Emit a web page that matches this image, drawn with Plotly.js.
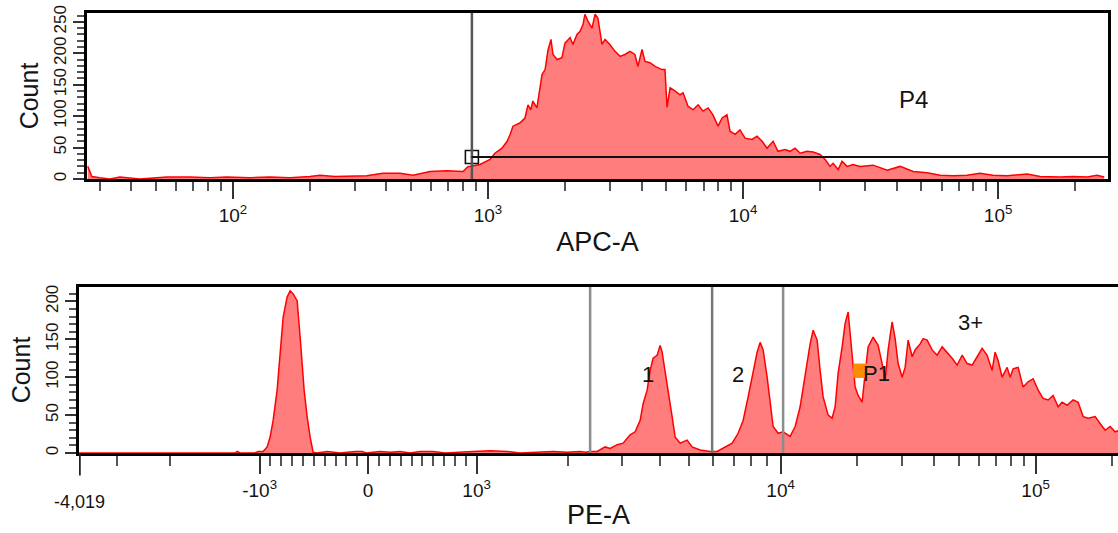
<!DOCTYPE html>
<html>
<head>
<meta charset="utf-8">
<script src="https://cdn.plot.ly/plotly-3.0.1.min.js"></script>
<style>
  html, body { margin: 0; padding: 0; background: #fff; }
  #chart { width: 1118px; height: 533px; }
</style>
</head>
<body>
<div id="chart"></div>
<script>
// ---------- Top histogram: APC-A (log scale), bins given as log10(APC-A) ----------
const apcDecade = [1.431,1.447,1.478,1.518,1.557,1.596,1.635,1.675,1.741,1.831,1.910,1.976,2.067,2.145,2.224,2.302,2.341,2.400,2.459,2.525,2.588,2.655,2.706,2.773,2.839,2.902,2.922,2.929,2.969,3.008,3.027,3.055,3.075,3.086,3.098,3.125,3.145,3.157,3.168,3.176,3.192,3.204,3.212,3.224,3.235,3.247,3.255,3.271,3.290,3.302,3.322,3.333,3.349,3.361,3.373,3.380,3.392,3.408,3.420,3.431,3.447,3.459,3.478,3.498,3.518,3.537,3.557,3.576,3.588,3.604,3.616,3.635,3.655,3.682,3.694,3.702,3.714,3.733,3.753,3.765,3.784,3.804,3.824,3.843,3.863,3.882,3.902,3.918,3.937,3.949,3.969,3.988,4.008,4.035,4.055,4.075,4.094,4.118,4.137,4.165,4.184,4.204,4.224,4.251,4.275,4.302,4.322,4.341,4.353,4.373,4.388,4.408,4.431,4.459,4.510,4.565,4.616,4.667,4.722,4.773,4.824,4.878,4.929,4.980,5.035,5.114,5.165,5.243,5.294,5.349,5.388,5.416];
const apcCount = [20,4,2,0,3,2,0,1,3,3,2,3,2,3,2,4,6,4,5,5,9,9,6,12,13,12,20,20,23,31,41,49,60,70,84,89,97,118,110,124,113,145,166,174,204,222,198,190,193,216,225,214,230,235,246,262,251,240,262,256,214,222,214,203,195,198,203,198,179,206,187,185,179,174,174,114,145,140,134,137,116,110,118,108,113,102,84,97,102,76,71,78,65,63,68,60,49,60,44,47,44,49,41,44,43,39,31,20,25,15,28,20,23,20,22,14,20,12,10,6,5,6,9,6,5,8,4,3,4,3,6,3];

// ---------- Bottom histogram: PE-A, bins given in biexponential display channels ----------
const peChannel = [0,156,158,161,176,179,184,188,191,194,198,201,204,208,211,214,218,221,223,225,228,231,234,238,248,254,261,276,283,287,301,311,321,331,341,354,366,394,411,428,441,474,488,501,506,511,518,526,531,538,544,551,556,561,564,568,571,574,578,581,583,586,589,593,596,601,608,613,621,631,638,644,653,659,664,669,674,678,681,684,688,691,694,699,704,711,716,721,726,731,734,738,741,744,749,753,756,759,763,766,769,773,776,779,783,786,789,794,799,803,806,809,813,816,819,823,826,829,833,836,841,844,848,853,858,863,868,873,878,883,888,893,898,903,908,913,916,919,923,928,931,934,939,944,949,954,959,964,969,974,979,983,988,994,999,1004,1009,1016,1021,1026,1031,1036,1041];
const peCount = [0,0,2,0,0,2,2,8,21,43,83,131,179,206,214,210,201,153,118,83,48,21,1,0,2,1,0,2,2,0,2,1,2,0,2,2,0,2,3,2,0,2,1,2,1,2,2,8,6,11,13,24,28,43,65,83,109,125,129,142,133,107,79,48,21,13,17,8,4,2,2,6,13,26,43,74,109,133,146,136,100,65,35,26,28,22,35,61,105,144,162,149,109,74,50,46,61,105,140,171,186,131,87,76,67,105,140,153,142,118,96,136,173,151,118,100,113,149,127,136,144,151,149,136,129,140,133,125,116,129,118,116,127,138,129,109,133,122,100,113,100,111,113,87,94,98,83,72,70,76,61,67,63,70,67,48,46,48,39,30,35,28,30];

// ---------- Axis tick labels ----------
const apcMajorTicks = [100, 1000, 10000, 100000];
const apcMajorText = ['10<sup>2</sup>', '10<sup>3</sup>', '10<sup>4</sup>', '10<sup>5</sup>'];
const apcMinorTicks = [30,40,50,60,70,80,90,200,300,400,500,600,700,800,900,2000,3000,4000,5000,6000,7000,8000,9000,20000,30000,40000,50000,60000,70000,80000,90000,200000];
const peMajorTicks = [-1000, 0, 1000, 10000, 100000];
const peMajorText = ['-10<sup>3</sup>', '0', '10<sup>3</sup>', '10<sup>4</sup>', '10<sup>5</sup>'];
const peMinorTicks = [-3000,-2000,-900,-800,-700,-600,-500,-400,-300,-200,-100,100,200,300,400,500,600,700,800,900,2000,3000,4000,5000,6000,7000,8000,9000,20000,30000,40000,50000,60000,70000,80000,90000,200000];
const countTicks = [0, 50, 100, 150, 200, 250];
const countTicks2 = [0, 50, 100, 150, 200];

// ---------- Gates ----------
const p4Gate = { xStart: 865, count: 35 };          // APC-A threshold, count level of gate bar
const p4Label = { x: 46500, y: 126, text: 'P4' };
const peGateChannels = [511, 633, 704];              // display channels of gate boundaries
const peGateLabels = [
  { x: 569, y: 103, text: '1' },
  { x: 659, y: 103, text: '2' },
  { x: 891, y: 172, text: '3+' },
  { x: 797, y: 105, text: 'P1' }
];
const p1Marker = { x0: 774, x1: 789, y0: 99, y1: 118 };
const peLowEnd = { value: -4019, text: '-4,019' };

// Biexponential display transform (PE-A value -> display channel)
function peToChannel(v) {
  const zero = 289, a = Math.abs(v), s = Math.sign(v);
  if (a <= 1000) return zero + 0.1085 * v;
  const dec = v > 0 ? 304 : 299;
  if (a <= 10000) return zero + s * (108.5 + dec * Math.log10(a / 1000));
  return zero + s * (108.5 + dec + 255 * Math.log10(a / 10000));
}
const peLeft = peToChannel(peLowEnd.value);

const FONT = 'Liberation Sans, Arial, sans-serif';
const TXT = '#141414';
const red = '#ff0000';
const fill = 'rgb(255,125,125)';

const traces = [
  {
    x: apcDecade.map(d => Math.pow(10, d)), y: apcCount,
    xaxis: 'x', yaxis: 'y', type: 'scatter', mode: 'lines',
    line: { color: red, width: 1.5 }, fill: 'tozeroy', fillcolor: fill,
    hoverinfo: 'skip', showlegend: false
  },
  {
    x: peChannel, y: peCount,
    xaxis: 'x2', yaxis: 'y2', type: 'scatter', mode: 'lines',
    line: { color: red, width: 1.5 }, fill: 'tozeroy', fillcolor: fill,
    hoverinfo: 'skip', showlegend: false
  },
  {
    x: [p4Gate.xStart], y: [p4Gate.count], xaxis: 'x', yaxis: 'y',
    type: 'scatter', mode: 'markers',
    marker: { symbol: 'square-open-dot', size: 13, color: '#111', line: { width: 1.6 } },
    hoverinfo: 'skip', showlegend: false, cliponaxis: false
  }
];

const axisCommon = {
  showline: true, linecolor: '#000', linewidth: 3,
  showgrid: false, zeroline: false, ticks: 'outside',
  tickwidth: 2, tickcolor: '#333',
  tickfont: { family: FONT, size: 19, color: TXT }
};

const layout = {
  width: 1118, height: 533,
  margin: { l: 79, r: 0, t: 0, b: 0 },
  paper_bgcolor: '#fff', plot_bgcolor: '#fff',
  font: { family: FONT, color: TXT },
  showlegend: false,
  xaxis: Object.assign({}, axisCommon, {
    type: 'log', domain: [0.0077, 0.9904], anchor: 'y',
    range: [1.428, 5.431], mirror: true,
    ticklen: 17, tickmode: 'array', tickvals: apcMajorTicks, ticktext: apcMajorText,
    minor: { ticks: 'outside', ticklen: 9, tickwidth: 2, tickcolor: '#555', tickmode: 'array', tickvals: apcMinorTicks },
    title: { text: 'APC-A', font: { family: FONT, size: 27, color: TXT }, standoff: 8 }
  }),
  yaxis: Object.assign({}, axisCommon, {
    domain: [0.6642, 0.9756], anchor: 'x', range: [0, 264], mirror: true,
    ticklen: 11, tickmode: 'array', tickvals: countTicks, tickangle: -90,
    tickfont: { family: FONT, size: 17, color: TXT },
    minor: { ticks: 'outside', ticklen: 7, tickwidth: 2, tickcolor: '#555', dtick: 10 },
    title: { text: 'Count', font: { family: FONT, size: 25, color: TXT }, standoff: 6 }
  }),
  xaxis2: Object.assign({}, axisCommon, {
    domain: [0, 1], anchor: 'y2', range: [peLeft, peLeft + 1039], mirror: true,
    ticklen: 18, tickmode: 'array',
    tickvals: peMajorTicks.map(peToChannel), ticktext: peMajorText,
    minor: { ticks: 'outside', ticklen: 10, tickwidth: 2, tickcolor: '#555', tickmode: 'array', tickvals: peMinorTicks.map(peToChannel) },
    title: { text: 'PE-A', font: { family: FONT, size: 27, color: TXT }, standoff: 6 }
  }),
  yaxis2: Object.assign({}, axisCommon, {
    domain: [0.1501, 0.4615], anchor: 'x2', range: [0, 219],
    ticklen: 11, tickmode: 'array', tickvals: countTicks2, tickangle: -90,
    tickfont: { family: FONT, size: 17, color: TXT },
    minor: { ticks: 'outside', ticklen: 7, tickwidth: 2, tickcolor: '#555', dtick: 10 },
    title: { text: 'Count', font: { family: FONT, size: 25, color: TXT }, standoff: 6 }
  }),
  shapes: [
    { type: 'line', xref: 'x', yref: 'y domain', x0: p4Gate.xStart, x1: p4Gate.xStart, y0: 0, y1: 1,
      line: { color: '#555', width: 2.5 } },
    { type: 'line', xref: 'x', yref: 'y', x0: p4Gate.xStart, x1: 270000, y0: p4Gate.count, y1: p4Gate.count,
      line: { color: '#111', width: 2 } },
    // tall tick at the low end of the PE-A scale
    { type: 'line', xref: 'x2', yref: 'y2 domain', x0: peLeft + 0.5, x1: peLeft + 0.5, y0: 0, y1: -0.135,
      line: { color: '#222', width: 2.5 } }
  ].concat(peGateChannels.map((c, i) => ({
    type: 'line', xref: 'x2', yref: 'y2 domain', x0: c, x1: c, y0: 0, y1: 1,
    line: { color: i === 1 ? '#777' : '#8c8c8c', width: 2.5 }
  }))).concat([
    { type: 'rect', xref: 'x2', yref: 'y2', x0: p1Marker.x0, x1: p1Marker.x1, y0: p1Marker.y0, y1: p1Marker.y1,
      fillcolor: '#ff8c00', line: { width: 0 } }
  ]),
  annotations: [
    { xref: 'x', yref: 'y', x: Math.log10(p4Label.x), y: p4Label.y, text: p4Label.text, showarrow: false,
      font: { family: FONT, size: 24, color: TXT } },
    { xref: 'paper', yref: 'paper', x: 0, y: 0.0582, text: peLowEnd.text, showarrow: false,
      xanchor: 'center', yanchor: 'middle', font: { family: FONT, size: 18, color: TXT } }
  ].concat(peGateLabels.map(l => ({
    xref: 'x2', yref: 'y2', x: l.x, y: l.y, text: l.text, showarrow: false,
    font: { family: FONT, size: 22, color: TXT }
  })))
};

Plotly.newPlot('chart', traces, layout, { staticPlot: true, displayModeBar: false });
</script>
</body>
</html>
